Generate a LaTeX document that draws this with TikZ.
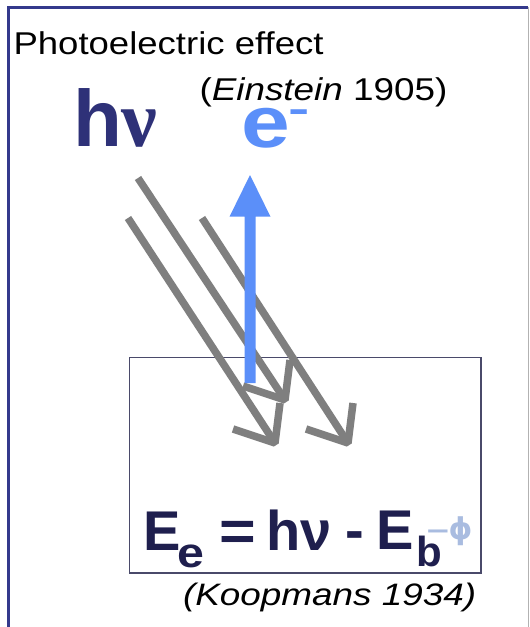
\documentclass[tikz,border=0pt]{standalone}
\usepackage{fontspec}
\usepackage{graphicx}
\setmainfont{Liberation Sans}
\newfontfamily\grserif{Liberation Serif}
\newfontfamily\djv{DejaVu Sans}
\usetikzlibrary{calc}
\newcommand{\hstretch}[2]{\scalebox{#1}[1]{#2}}
\definecolor{framenavy}{HTML}{34398C}
\definecolor{boxline}{HTML}{4A4A6A}
\definecolor{arrowgray}{HTML}{7F7F7F}
\definecolor{eblue}{HTML}{5B8FF9}
\definecolor{hvnavy}{HTML}{2E3178}
\definecolor{eqnavy}{HTML}{1F1F4E}
\definecolor{phiblue}{HTML}{A9BCE0}
\begin{document}
\begin{tikzpicture}[x=1pt,y=-1pt,
  txt/.style={inner sep=0pt,outer sep=0pt,anchor=base west},
  grayarrow/.style={draw=arrowgray,line width=7.5pt,line join=bevel},
  eqfont/.style={font=\fontsize{56}{60}\selectfont\bfseries,text=eqnavy},
  subfont/.style={font=\fontsize{42}{46}\selectfont\bfseries,text=eqnavy}]
\useasboundingbox (0,0) rectangle (530,627);
\fill[white] (0,0) rectangle (530,627);
% outer frame
\draw[framenavy,line width=3pt] (8.5,627) -- (8.5,7) -- (528,7);
\draw[gray!60,line width=1pt] (528.5,7) -- (528.5,627);
% inner box
\node[draw=boxline,line width=1.3pt,inner sep=0pt,minimum width=351.5pt,minimum height=215.5pt] (slab) at (305.25,465.25) {};
% incoming photons
\coordinate (as) at (138,178); \coordinate (at) at (285,400);
\coordinate (bs) at (128,218); \coordinate (bt) at (275,443);
\coordinate (cs) at (202,218); \coordinate (ct) at (348,443);
\foreach \s/\t in {as/at,bs/bt,cs/ct}{
  \draw[grayarrow] (\s) -- (\t);
  \draw[grayarrow] ($(\t)+(-42,-14)$) -- (\t) -- ($(\t)+(5,-40)$);
}
% outgoing electron
\coordinate (ebase) at (250,383);
\coordinate (etip) at (250,175);
\fill[eblue] ($(ebase)+(-5.5,0)$) -- ($(etip)+(-5.5,41.7)$) -- ($(etip)+(-20.5,41.7)$) -- (etip)
  -- ($(etip)+(20.5,41.7)$) -- ($(etip)+(5.5,41.7)$) -- ($(ebase)+(5.5,0)$) -- cycle;
% texts
\node[txt,font=\fontsize{31.5}{36}\selectfont] (title) at (13.5,54) {\hstretch{1.16}{Photoelectric effect}};
\node[txt,font=\fontsize{31.5}{36}\selectfont] (einstein) at (199.5,100) {\hstretch{1.17}{(\textit{Einstein} 1905)}};
\node[txt,font=\fontsize{31}{36}\selectfont\itshape] (koop) at (183,605) {\hstretch{1.19}{(Koopmans 1934)}};
\node[txt,font=\fontsize{80}{90}\selectfont\bfseries,text=hvnavy] (hnu) at (73,146) {h{\grserif ν}};
\node[txt,font=\fontsize{73}{80}\selectfont\bfseries,text=eblue] (elec) at (241,147) {\hstretch{1.2}{e}};
\node[txt,font=\fontsize{40}{44}\selectfont\bfseries,text=eblue] (eminus) at (288,122.5) {\hstretch{1.6}{-}};
% equation
\node[txt,eqfont] (E1) at (143,550) {E};
\node[txt,subfont] (sube) at (177,567) {\hstretch{1.15}{e}};
\node[txt,eqfont] (eq) at (219,550) {\hstretch{1.12}{=}};
\node[txt,eqfont] (hv) at (266,550) {hν};
\node[txt,eqfont] (minus) at (345,549) {-};
\node[txt,eqfont] (E2) at (376,549) {E};
\node[txt,subfont] (subb) at (416,566) {b};
\node[txt,font=\fontsize{30}{34}\selectfont\bfseries,text=phiblue] (phi) at (427,539) {\hstretch{1.3}{–}{\djv ϕ}};
\end{tikzpicture}
\end{document}
